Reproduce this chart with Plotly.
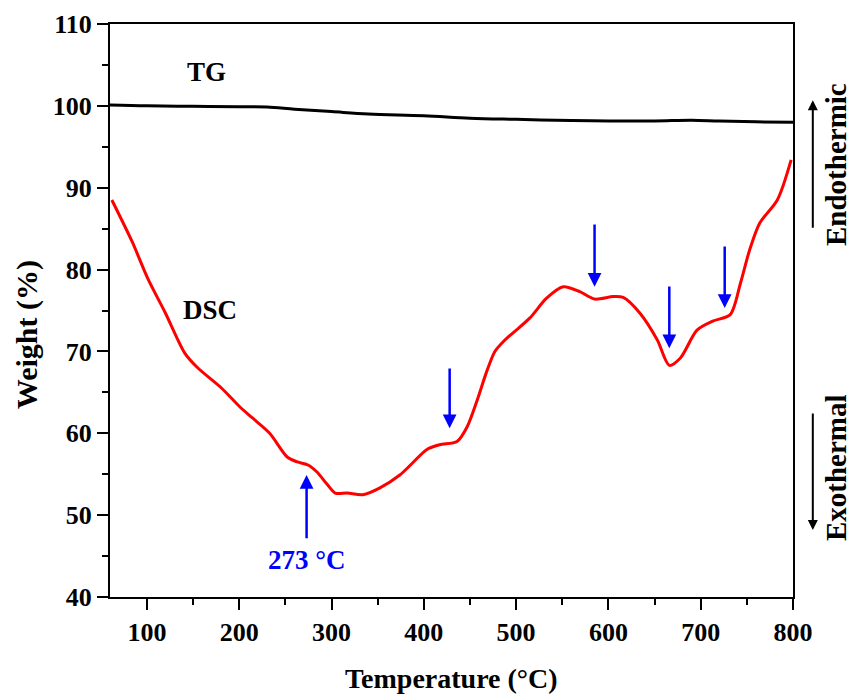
import plotly.graph_objects as go

# DSC curve (plotted on the Weight axis scale)
dsc_x = [62, 84, 101, 120, 141, 155, 181, 200, 214, 233, 252, 263, 275, 284, 295, 304,
         317, 334, 352, 374, 388, 403, 417, 436, 447, 458, 468, 477, 487, 497, 515, 533, 551, 569,
         585, 605, 616, 634, 653, 666, 678, 696, 713, 732, 743, 753, 764, 783, 798]
dsc_y = [88.5, 83.4, 78.9, 74.7, 69.8, 68.0, 65.5, 63.3, 61.9, 60.0, 57.1, 56.5, 56.1,
         55.3, 53.8, 52.7, 52.7, 52.5, 53.3, 54.9, 56.4, 58.0, 58.6, 59.0, 60.8, 64.1, 67.5, 70.0,
         71.3, 72.3, 74.1, 76.5, 77.9, 77.3, 76.4, 76.7, 76.6, 74.7, 71.4, 68.3, 69.2, 72.6, 73.7,
         74.5, 78.3, 82.4, 85.7, 88.5, 93.4]

# TG curve
tg_x = [60, 100, 150, 200, 230, 260, 300, 340, 400, 450, 500, 560, 600, 650, 690, 720, 760, 800]
tg_y = [100.1, 100.0, 99.95, 99.9, 99.85, 99.6, 99.3, 99.0, 98.8, 98.5, 98.35, 98.2, 98.15, 98.15,
        98.25, 98.15, 98.05, 98.0]

# blue event arrows: x position, tip y, tail y
arrow_x = [273, 428, 585, 666, 726]
arrow_tip = [54.9, 60.6, 77.9, 70.4, 75.3]
arrow_tail = [47.0, 68.1, 85.7, 78.1, 83.0]

x_ticks = [100, 200, 300, 400, 500, 600, 700, 800]
y_ticks = [40, 50, 60, 70, 80, 90, 100, 110]

FONT = "Liberation Serif"

def bfont(size, color="black"):
    return dict(family=FONT, size=size, color=color, weight="bold")

fig = go.Figure()
fig.add_trace(go.Scatter(x=tg_x, y=tg_y, mode="lines", line=dict(color="black", width=3, shape="spline"),
                         showlegend=False, hoverinfo="skip"))
fig.add_trace(go.Scatter(x=dsc_x, y=dsc_y, mode="lines",
                         line=dict(color="#ff0000", width=3, shape="spline", smoothing=0.8),
                         showlegend=False, hoverinfo="skip"))

anns = []
for ax_, tip, tail in zip(arrow_x, arrow_tip, arrow_tail):
    anns.append(dict(x=ax_, y=tip, ax=ax_, ay=tail, xref="x", yref="y", axref="x", ayref="y",
                     showarrow=True, arrowhead=2, arrowsize=1.1, arrowwidth=2.5, arrowcolor="#0000ff",
                     text=""))

anns += [
    dict(x=165, y=104.1, xref="x", yref="y", text="TG", showarrow=False, font=bfont(27)),
    dict(x=168, y=75.1, xref="x", yref="y", text="DSC", showarrow=False, font=bfont(27)),
    dict(x=273, y=44.5, xref="x", yref="y", text="273 °C", showarrow=False, font=bfont(27, "#0000ff")),
    dict(x=1.063, y=0.754, xref="paper", yref="paper", text="Endothermic", textangle=-90,
         xanchor="center", yanchor="middle", showarrow=False, font=bfont(29)),
    dict(x=1.063, y=0.225, xref="paper", yref="paper", text="Exothermal", textangle=-90,
         xanchor="center", yanchor="middle", showarrow=False, font=bfont(29)),
    dict(x=1.029, y=0.867, xref="paper", yref="paper", ax=0, ay=129, text="", showarrow=True,
         arrowhead=2, arrowsize=1, arrowwidth=2, arrowcolor="black"),
    dict(x=1.029, y=0.117, xref="paper", yref="paper", ax=0, ay=-118, text="", showarrow=True,
         arrowhead=2, arrowsize=1, arrowwidth=2, arrowcolor="black"),
    # axis titles
    dict(x=-0.1215, y=0.457, xref="paper", yref="paper", text="Weight (%)", textangle=-90,
         xanchor="center", yanchor="middle", showarrow=False, font=bfont(30)),
    dict(x=0.5007, y=-0.143, xref="paper", yref="paper", text="Temperature (°C)",
         xanchor="center", yanchor="middle", showarrow=False, font=bfont(28)),
]

common = dict(ticks="outside", ticklen=11, tickwidth=2, tickcolor="black",
              showline=True, linecolor="black", linewidth=2, mirror=True, showgrid=False,
              zeroline=False, tickfont=bfont(26), automargin=False)

fig.update_layout(
    width=853, height=695,
    margin=dict(l=110, r=60, t=24, b=98),
    paper_bgcolor="white", plot_bgcolor="white",
    annotations=anns,
    xaxis=dict(range=[60, 800], tickvals=x_ticks, ticktext=[str(v) for v in x_ticks],
               minor=dict(ticks="outside", ticklen=6, tickwidth=2, tickcolor="black", dtick=50, tick0=0),
               **common),
    yaxis=dict(range=[40, 110], tickvals=y_ticks, ticktext=[str(v) for v in y_ticks],
               minor=dict(ticks="outside", ticklen=6, tickwidth=2, tickcolor="black", dtick=5, tick0=0),
               **common),
)

fig.write_html("out.html", config={"displayModeBar": False},
               post_script="document.body.style.margin='0';document.body.style.overflow='hidden';")
